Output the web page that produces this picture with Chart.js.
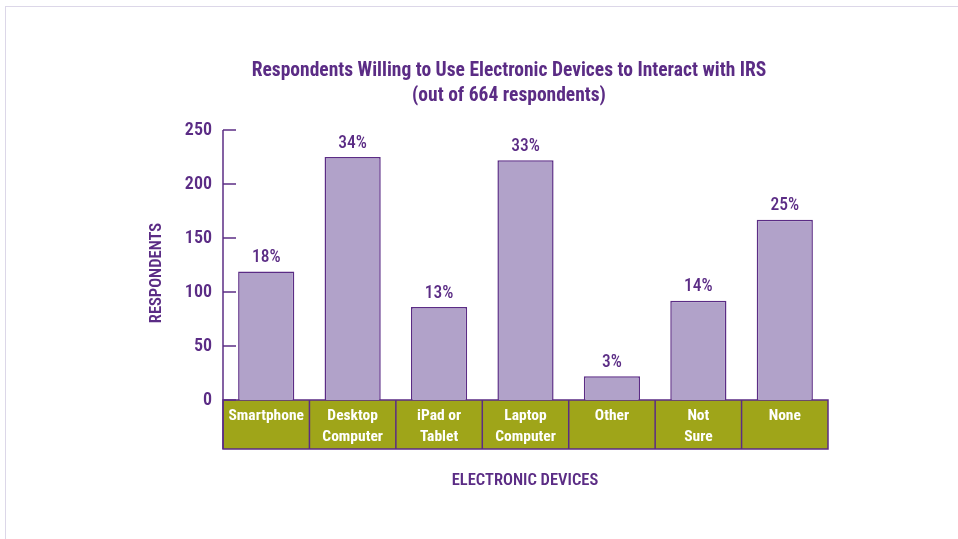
<!DOCTYPE html>
<html>
<head>
<meta charset="utf-8">
<script src="https://cdn.jsdelivr.net/npm/chart.js@4/dist/chart.umd.min.js"></script>
<style>
  html, body { margin: 0; padding: 0; background: #fff; }
  #wrap { position: relative; width: 958px; height: 539px; overflow: hidden; }
  #frame { position: absolute; left: 5px; top: 6px; width: 960px; height: 540px;
           border-top: 1.5px solid #dcd7e8; border-left: 1.5px solid #dcd7e8; box-sizing: border-box; }
  canvas { position: absolute; left: 0; top: 0; }
</style>
</head>
<body>
<div id="wrap">
  <div id="frame"></div>
  <canvas id="c" width="958" height="539"></canvas>
</div>
<script>
const categories = [["Smartphone"], ["Desktop", "Computer"], ["iPad or", "Tablet"], ["Laptop", "Computer"], ["Other"], ["Not", "Sure"], ["None"]];
const respondents = [119, 225, 86, 222, 22, 92, 167];
const percentLabels = ["18%", "34%", "13%", "33%", "3%", "14%", "25%"];
const yTicks = [0, 50, 100, 150, 200, 250];
const titleLines = ["Respondents Willing to Use Electronic Devices to Interact with IRS", "(out of 664 respondents)"];
const yTitle = "RESPONDENTS";
const xTitle = "ELECTRONIC DEVICES";

const PURPLE = "#5b2c85";
const OLIVE = "#9fa519";
const BAR = "#b1a2c9";
const FONT = '"Liberation Sans Narrow", "Roboto Condensed", "Arial Narrow", "Liberation Sans", sans-serif';
const BAND_H = 49;

const decor = {
  id: "decor",
  beforeDraw(chart) {
    const ctx = chart.ctx, a = chart.chartArea, x = chart.scales.x;
    ctx.save();
    ctx.fillStyle = OLIVE;
    ctx.fillRect(a.left, a.bottom, a.right - a.left, BAND_H);
    ctx.strokeStyle = PURPLE;
    ctx.lineWidth = 1.5;
    ctx.strokeRect(a.left, a.bottom, a.right - a.left, BAND_H);
    const n = chart.data.labels.length;
    for (let i = 1; i < n; i++) {
      const px = (x.getPixelForValue(i - 1) + x.getPixelForValue(i)) / 2;
      ctx.beginPath();
      ctx.moveTo(px, a.bottom);
      ctx.lineTo(px, a.bottom + BAND_H);
      ctx.stroke();
    }
    ctx.restore();
  },
  afterDraw(chart) {
    const ctx = chart.ctx, a = chart.chartArea, y = chart.scales.y;
    ctx.save();
    ctx.strokeStyle = PURPLE;
    ctx.lineWidth = 1.5;
    ctx.beginPath();
    ctx.moveTo(a.left, a.top);
    ctx.lineTo(a.left, a.bottom + BAND_H);
    ctx.stroke();
    yTicks.forEach(v => {
      const py = y.getPixelForValue(v);
      ctx.beginPath();
      ctx.moveTo(a.left, py);
      ctx.lineTo(a.left + 13, py);
      ctx.stroke();
    });
    ctx.fillStyle = PURPLE;
    ctx.font = "500 17.5px " + FONT;
    ctx.textAlign = "center";
    ctx.textBaseline = "bottom";
    chart.getDatasetMeta(0).data.forEach((bar, i) => {
      ctx.fillText(percentLabels[i], bar.x, bar.y - 5);
    });
    ctx.font = "bold 19.5px " + FONT;
    ctx.textBaseline = "middle";
    ctx.fillText(titleLines[0], 509, 71);
    ctx.fillText(titleLines[1], 509, 96);
    ctx.font = "600 16.5px " + FONT;
    ctx.fillText(xTitle, 525, 481);
    ctx.translate(157, 273);
    ctx.rotate(-Math.PI / 2);
    ctx.fillText(yTitle, 0, 0);
    ctx.restore();
  }
};

new Chart(document.getElementById("c"), {
  type: "bar",
  data: {
    labels: categories,
    datasets: [{
      data: respondents,
      backgroundColor: BAR,
      borderColor: PURPLE,
      borderWidth: 1.5,
      borderSkipped: "bottom",
      categoryPercentage: 1,
      barPercentage: 0.65
    }]
  },
  options: {
    responsive: false,
    animation: false,
    devicePixelRatio: 1,
    layout: { padding: { left: 0, top: 130, right: 130, bottom: 89 } },
    plugins: { legend: { display: false }, title: { display: false }, tooltip: { enabled: false } },
    scales: {
      x: {
        afterFit(s) { s.height = 50; },
        grid: { display: false, drawTicks: false },
        border: { display: false },
        ticks: {
          color: "#ffffff",
          padding: 6,
          maxRotation: 0,
          autoSkip: false,
          font: { family: FONT, size: 15.5, weight: "bold", lineHeight: 1.32 }
        }
      },
      y: {
        min: 0, max: 250,
        afterFit(s) { s.width = 223; },
        afterBuildTicks(s) { s.ticks = yTicks.map(v => ({ value: v })); },
        grid: { display: false, drawTicks: false },
        border: { display: false },
        ticks: {
          color: PURPLE,
          padding: 11,
          font: { family: FONT, size: 18, weight: "600" }
        }
      }
    }
  },
  plugins: [decor]
});
</script>
</body>
</html>
